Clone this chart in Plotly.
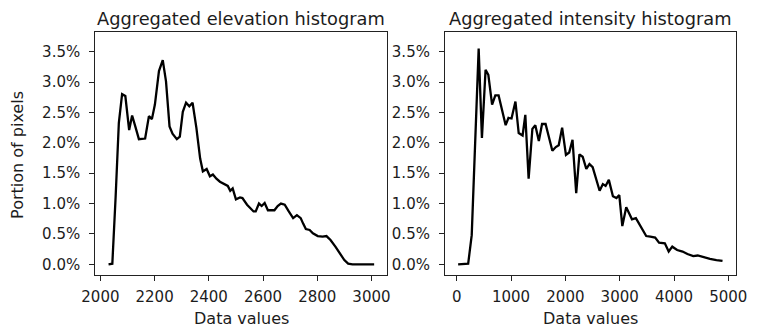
import plotly.graph_objects as go

# Aggregated elevation histogram (data value, portion of pixels in %)
elev_x = [2030, 2044, 2056, 2068, 2080, 2092, 2106, 2117, 2130, 2142, 2165, 2179, 2190,
          2201, 2216, 2230, 2242, 2255, 2266, 2282, 2293, 2304, 2316, 2328, 2340, 2354,
          2368, 2378, 2392, 2404, 2415, 2428, 2441, 2458, 2470, 2479, 2488, 2500, 2515,
          2524, 2541, 2565, 2573, 2585, 2595, 2606, 2618, 2642, 2654, 2666, 2680, 2695,
          2711, 2725, 2739, 2748, 2758, 2772, 2784, 2802, 2820, 2834, 2849, 2867, 2885,
          2900, 2914, 2930, 3010]
elev_y = [0.00, 0.01, 1.10, 2.33, 2.80, 2.77, 2.21, 2.45, 2.25, 2.06, 2.07, 2.44, 2.39,
          2.63, 3.18, 3.36, 3.01, 2.27, 2.15, 2.06, 2.10, 2.51, 2.66, 2.60, 2.66, 2.25,
          1.74, 1.53, 1.57, 1.45, 1.48, 1.41, 1.36, 1.32, 1.29, 1.21, 1.25, 1.07, 1.10,
          1.09, 0.98, 0.87, 0.87, 1.00, 0.96, 1.01, 0.89, 0.89, 0.96, 1.00, 0.98, 0.87,
          0.76, 0.81, 0.76, 0.67, 0.58, 0.565, 0.51, 0.465, 0.455, 0.465, 0.40, 0.29, 0.17,
          0.07, 0.01, 0.00, 0.00]

# Aggregated intensity histogram
inten_x = [25, 210, 275, 403, 463, 530, 581, 650, 710, 770, 900, 952, 1008, 1080, 1140,
           1212, 1262, 1323, 1392, 1446, 1511, 1570, 1635, 1760, 1823, 1877, 1940, 2010,
           2070, 2131, 2199, 2258, 2318, 2385, 2443, 2502, 2630, 2690, 2740, 2800, 2875,
           2940, 2992, 3048, 3120, 3226, 3298, 3386, 3488, 3564, 3653, 3724, 3831, 3902,
           3968, 4057, 4158, 4247, 4354, 4436, 4543, 4662, 4781, 4893]
inten_y = [0.00, 0.01, 0.48, 3.55, 2.08, 3.20, 3.12, 2.63, 2.78, 2.78, 2.29, 2.41, 2.40,
           2.68, 2.16, 2.12, 2.46, 1.41, 2.23, 2.29, 2.03, 2.31, 2.31, 1.87, 1.93, 1.96,
           2.25, 1.80, 1.84, 2.05, 1.17, 1.81, 1.77, 1.57, 1.65, 1.60, 1.21, 1.32, 1.29,
           1.39, 1.12, 1.09, 1.14, 0.63, 0.94, 0.74, 0.76, 0.62, 0.465, 0.455, 0.44, 0.355,
           0.345, 0.21, 0.29, 0.235, 0.21, 0.17, 0.135, 0.145, 0.115, 0.09, 0.07, 0.055]

titles = ["Aggregated elevation histogram", "Aggregated intensity histogram"]
x_label = "Data values"
y_label = "Portion of pixels"
y_ticks = [0.0, 0.5, 1.0, 1.5, 2.0, 2.5, 3.0, 3.5]
y_tick_text = ["0.0%", "0.5%", "1.0%", "1.5%", "2.0%", "2.5%", "3.0%", "3.5%"]
elev_ticks = [2000, 2200, 2400, 2600, 2800, 3000]
inten_ticks = [0, 1000, 2000, 3000, 4000, 5000]

W, H = 768, 336
FONT = "DejaVu Sans"
TXT = "#1c1c1c"

fig = go.Figure()
fig.add_trace(go.Scatter(x=elev_x, y=elev_y, mode="lines",
                         line=dict(color="black", width=2.3), xaxis="x", yaxis="y",
                         showlegend=False))
fig.add_trace(go.Scatter(x=inten_x, y=inten_y, mode="lines",
                         line=dict(color="black", width=2.3), xaxis="x2", yaxis="y2",
                         showlegend=False))

left_dom = [84 / W, 386 / W]
right_dom = [445.5 / W, 746.5 / W]
y_dom = [(H - 275) / H, (H - 32) / H]

axis_common = dict(showline=True, linecolor="#222", linewidth=1.1, mirror=True,
                   ticks="outside", ticklen=5, tickwidth=1.1, tickcolor="#222",
                   showgrid=False, zeroline=False,
                   tickfont=dict(family=FONT, size=15, color=TXT))

fig.update_layout(
    width=W, height=H, margin=dict(l=0, r=0, t=0, b=0),
    paper_bgcolor="white", plot_bgcolor="white",
    xaxis=dict(domain=left_dom, range=[1981, 3059], tickmode="array",
               tickvals=elev_ticks, ticktext=[str(v) for v in elev_ticks],
               anchor="y", ticklabelstandoff=3, **axis_common),
    yaxis=dict(domain=y_dom, range=[-0.176, 3.824], tickmode="array",
               tickvals=y_ticks, ticktext=y_tick_text, anchor="x",
               ticklabelstandoff=6, **axis_common),
    xaxis2=dict(domain=right_dom, range=[-217, 5145], tickmode="array",
                tickvals=inten_ticks, ticktext=[str(v) for v in inten_ticks],
                anchor="y2", ticklabelstandoff=3, **axis_common),
    yaxis2=dict(domain=y_dom, range=[-0.176, 3.824], tickmode="array",
                tickvals=y_ticks, ticktext=y_tick_text, anchor="x2",
                ticklabelstandoff=6, **axis_common),
)

ann = []
for dom, t in zip([left_dom, right_dom], titles):
    cx = (dom[0] + dom[1]) / 2
    ann.append(dict(text=t, x=cx, y=(H - 18.5) / H, xref="paper", yref="paper",
                    xanchor="center", yanchor="middle", showarrow=False,
                    font=dict(family=FONT, size=17.8, color=TXT)))
    ann.append(dict(text=x_label, x=cx, y=(H - 318) / H, xref="paper", yref="paper",
                    xanchor="center", yanchor="middle", showarrow=False,
                    font=dict(family=FONT, size=16, color=TXT)))
ann.append(dict(text=y_label, x=3 / W, y=(H - 155) / H, xref="paper", yref="paper",
                xanchor="center", yanchor="middle", showarrow=False, textangle=-90,
                font=dict(family=FONT, size=16, color=TXT)))
fig.update_layout(annotations=ann)

fig.write_html("out.html")
